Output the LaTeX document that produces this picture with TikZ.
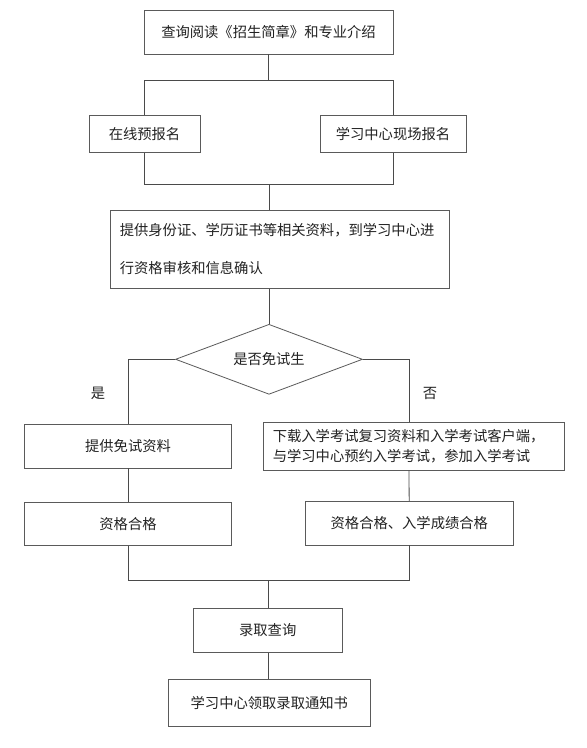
\documentclass[tikz,border=0pt]{standalone}
\usepackage{fontspec}
\setmainfont{Noto Sans CJK SC}
\usetikzlibrary{shapes.geometric}
\definecolor{boxc}{HTML}{5A5A5A}
\definecolor{linec}{HTML}{4A4A4A}
\definecolor{txt}{HTML}{222222}
\begin{document}
\begin{tikzpicture}[x=1pt,y=-1pt,
  box/.style={draw=boxc, line width=0.8pt, inner sep=0pt, align=center, text=txt,
    font=\fontsize{14.3}{17}\selectfont},
  decision/.style={diamond, aspect=2.67, draw=boxc, line width=0.8pt, inner sep=0pt, text=txt,
    font=\fontsize{14.3}{17}\selectfont},
  lab/.style={inner sep=0pt, text=txt, font=\fontsize{14.3}{17}\selectfont},
  link/.style={draw=linec, line width=0.8pt}]
\useasboundingbox[fill=white] (0,0) rectangle (587,748);

\node[box, minimum width=249, minimum height=44] (top) at (268.5,32) {查询阅读《招生简章》和专业介绍};
\node[box, minimum width=111, minimum height=37.5] (online) at (144.5,133.7) {在线预报名};
\node[box, minimum width=146, minimum height=37.5] (onsite) at (393,133.7) {学习中心现场报名};
\node[box, align=left, text width=320, inner xsep=9.2, minimum height=77.6,
  font=\fontsize{14.3}{38}\selectfont] (docs) at (279.8,249.5)
  {提供身份证、学历证书等相关资料，到学习中心进\\行资格审核和信息确认};
\node[decision, minimum width=187, minimum height=70] (dec) at (269,359.3) {是否免试生};
\node[lab] (yes) at (98,393) {是};
\node[lab] (no) at (430,393) {否};
\node[box, minimum width=207, minimum height=43.3] (exempt) at (128,446.3) {提供免试资料};
\node[box, align=left, text width=282, inner xsep=9.2, minimum height=48,
  font=\fontsize{14.3}{19.5}\selectfont] (exam) at (413.8,446)
  {下载入学考试复习资料和入学考试客户端，\\与学习中心预约入学考试，参加入学考试};
\node[box, minimum width=207, minimum height=43.2] (qualL) at (128,523.9) {资格合格};
\node[box, minimum width=207.5, minimum height=43.7] (qualR) at (409.3,523.2) {资格合格、入学成绩合格};
\node[box, minimum width=148.7, minimum height=44.2] (query) at (267.7,630) {录取查询};
\node[box, minimum width=202, minimum height=46.7] (notice) at (269.3,702.7) {学习中心领取录取通知书};

\coordinate (s1) at (268,80.7);
\coordinate (s2) at (269,184);
\coordinate (rb) at (409,359.3);
\coordinate (s3) at (268,580.3);

\draw[link] (s1 |- top.south) -- (s1);
\draw[link] (s1) -| (online);
\draw[link] (s1) -| (onsite);
\draw[link] (online) |- (s2);
\draw[link] (onsite) |- (s2);
\draw[link] (s2) -- (s2 |- docs.north);
\draw[link] (dec.north |- docs.south) -- (dec.north);
\draw[link] (dec.west) -| (exempt);
\draw[link] (dec.east) -- (rb) -- (rb |- exam.north);
\draw[link] (exempt) -- (qualL);
\draw[link] (rb |- exam.south) -- (qualR);
\draw[link] (qualL) |- (s3);
\draw[link] (qualR) |- (s3);
\draw[link] (s3) -- (s3 |- query.north);
\draw[link] (query.south -| s3) -- (s3 |- notice.north);
\end{tikzpicture}
\end{document}
